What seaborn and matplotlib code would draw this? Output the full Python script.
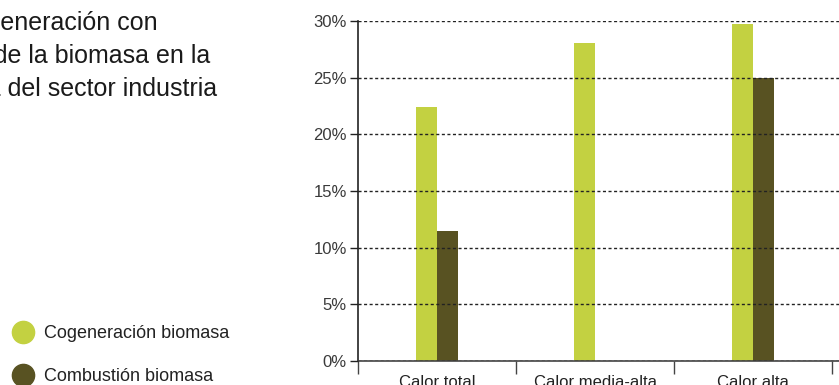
import matplotlib

matplotlib.use("Agg")
import matplotlib.pyplot as plt
import pandas as pd
import seaborn as sns
from matplotlib.lines import Line2D

# data
categorias = ["Calor total", "Calor media-alta", "Calor alta"]
series = ["Cogeneración biomasa", "Combustión biomasa"]
cogeneracion = [22.4, 28.1, 29.7]
combustion = [11.5, 0.0, 25.0]
y_ticks = [0, 5, 10, 15, 20, 25, 30]
titulo = [
    "Potencial de cogeneración con",
    "combustión de la biomasa en la",
    "demanda térmica del sector industria",
]

colores = {"Cogeneración biomasa": "#c3d141", "Combustión biomasa": "#585222"}

df = pd.DataFrame(
    {
        "categoria": categorias * 2,
        "serie": [series[0]] * 3 + [series[1]] * 3,
        "valor": cogeneracion + combustion,
    }
)

sns.set_theme(style="white")
plt.rcParams["font.family"] = ["Liberation Sans", "DejaVu Sans"]

fig = plt.figure(figsize=(8.39, 3.85), dpi=100)
ax = fig.add_axes([358 / 839, 24 / 385, 481 / 839, 340 / 385])

sns.barplot(
    data=df,
    x="categoria",
    y="valor",
    hue="serie",
    palette=colores,
    width=0.266,
    gap=0,
    saturation=1,
    linewidth=0,
    legend=False,
    ax=ax,
)

ax.set_xlim(-0.5, -0.5 + 481 / 158)
ax.set_ylim(0, 30)
ax.set_xlabel("")
ax.set_ylabel("")

ax.set_yticks(y_ticks)
ax.set_yticklabels([f"{v}%" for v in y_ticks], fontsize=12, color="#3a3a3a")
ax.tick_params(axis="y", direction="out", length=6, width=1, color="#222222", left=True, pad=2)

# category labels at centres, tick marks at the boundaries
ax.set_xticks(range(len(categorias)))
ax.set_xticklabels(categorias, fontsize=12, color="#222222")
ax.set_xticks([i - 0.5 for i in range(len(categorias) + 1)], minor=True)
ax.tick_params(axis="x", which="major", length=0, pad=10)
ax.tick_params(axis="x", which="minor", direction="out", length=9, width=1, color="#444444", bottom=True)

ax.yaxis.grid(True, linestyle=(0, (2.2, 1.8)), color="#222222", linewidth=1)
ax.xaxis.grid(False)
ax.set_axisbelow(False)

for side in ["top", "right"]:
    ax.spines[side].set_visible(False)
ax.spines["left"].set_color("#222222")
ax.spines["bottom"].set_color("#444444")
ax.spines["left"].set_linewidth(1.2)
ax.spines["bottom"].set_linewidth(1.2)

# title, cropped on the left like the reference
for linea, x_fin, y_base in zip(titulo, [158, 210, 217], [30, 63, 95.5]):
    fig.text(x_fin / 839, 1 - y_base / 385, linea, ha="right", va="baseline",
             fontsize=18, color="#1a1a1a")

handles = [
    Line2D([], [], marker="o", linestyle="", markersize=16, color=colores[s]) for s in series
]
fig.legend(
    handles,
    series,
    loc="upper left",
    bbox_to_anchor=(-0.005, 1 - 309 / 385),
    frameon=False,
    fontsize=13,
    handletextpad=0.55,
    labelspacing=1.42,
    handlelength=1.2,
    labelcolor="#222222",
)

fig.savefig("out.png", dpi=100)
